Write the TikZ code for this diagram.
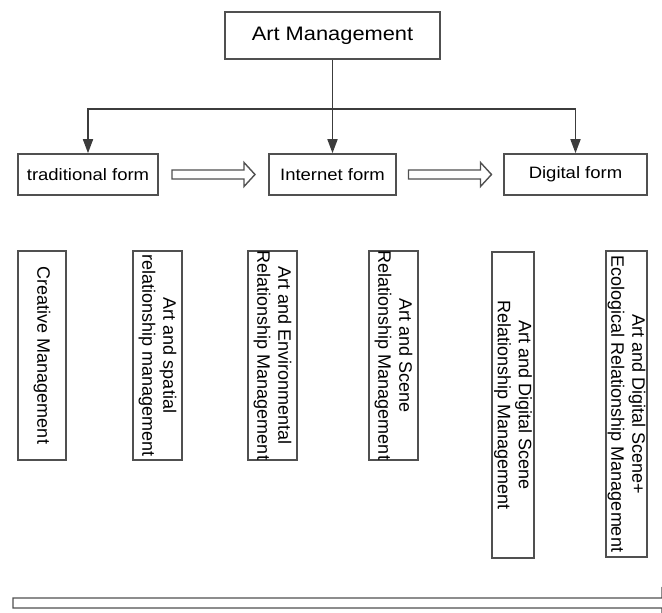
\documentclass[tikz,border=0pt]{standalone}
\usepackage{fontspec}
\setmainfont{Liberation Sans}
\newfontfamily\headfont{Liberation Sans}[FakeStretch=1.12]
\usepackage{xcolor}
\usetikzlibrary{arrows.meta,positioning,calc}
\definecolor{linegray}{RGB}{60,60,60}
\definecolor{boxgray}{RGB}{80,80,80}

\begin{document}
\begin{tikzpicture}[
    x=1pt, y=-1pt,
    box/.style={draw=boxgray, line width=1.6pt, inner sep=0pt, align=center},
    topbox/.style={box, minimum width=215pt, minimum height=47pt, font=\headfont\fontsize{19.5}{22}\selectfont},
    formbox/.style={box, minimum height=41pt, font=\headfont\fontsize{16.5}{20}\selectfont},
    itembox/.style={box, rotate=-90, font=\fontsize{18}{21}\selectfont},
    arrow/.style={-{Triangle[length=14pt,width=10pt]}, line width=1.7pt, color=linegray},
    link/.style={line width=1.7pt, color=linegray},
    hollow/.style={draw=boxgray, line width=1.4pt, fill=white, line join=miter},
    hollow arrow/.pic={\draw[hollow] (-41.5,-4.5) -- (30.5,-4.5) -- (30.5,-12) -- (41.5,0) -- (30.5,12) -- (30.5,4.5) -- (-41.5,4.5) -- cycle;}
]
\useasboundingbox (0,0) rectangle (662,613);

% Top
\node[topbox] (artmgmt) at (332.5,35.5) {Art Management};

% Forms
\node[formbox, minimum width=140pt] (trad) at (88,174.5) {traditional form};
\node[formbox, minimum width=127pt] (inet) at (332.5,174.5) {Internet form};
\node[formbox, minimum width=143pt] (digital) at (575.5,174.5) {Digital form};

% Management items
\node[itembox, minimum width=209pt, minimum height=48pt] (creative) at (42,355.5) {Creative Management};
\node[itembox, minimum width=209pt, minimum height=49pt] (spatial) at (157.5,355.5) {Art and spatial\\relationship management};
\node[itembox, minimum width=209pt, minimum height=49pt] (environ) at (272.5,355.5) {Art and Environmental\\Relationship Management};
\node[itembox, minimum width=209pt, minimum height=49pt] (scene) at (393.5,355.5) {Art and Scene\\Relationship Management};
\node[itembox, minimum width=306pt, minimum height=42pt] (digiscene) at (513,405) {Art and Digital Scene\\Relationship Management};
\node[itembox, minimum width=306pt, minimum height=41pt] (ecology) at (626.5,404) {Art and Digital Scene+\\Ecological Relationship Management};

% Arrows - Tree
\coordinate (split) at (332.5,109);
\draw[link] (artmgmt) -- (split);
\draw[arrow] (split) -| (trad);
\draw[arrow] (split) -- (inet);
\draw[arrow] (split) -| (digital);

% Arrows - Evolution
\pic at ($(trad.east)!0.5!(inet.west)$) {hollow arrow};
\pic at ($(inet.east)!0.5!(digital.west)$) {hollow arrow};

% Bottom bar
\draw[hollow] (13,598) -- (662,598) -- (662,588) -- (692,603) -- (662,618) -- (662,608) -- (13,608) -- cycle;

\end{tikzpicture}
\end{document}
